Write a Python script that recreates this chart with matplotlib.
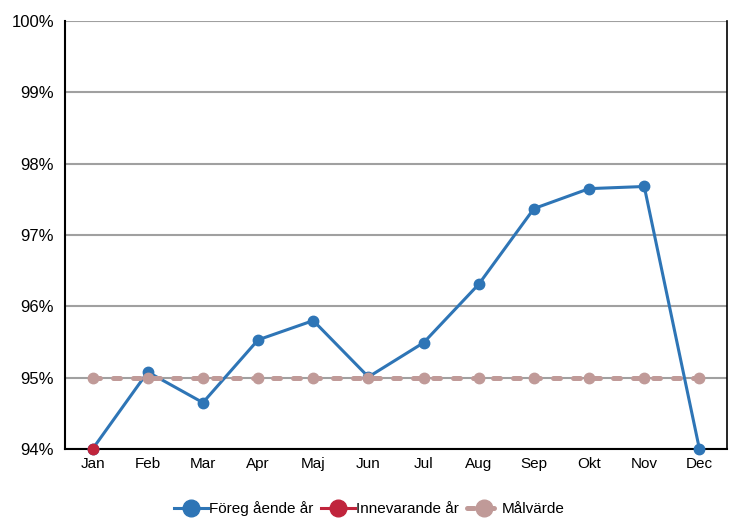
import matplotlib
matplotlib.use("Agg")
from matplotlib import pyplot as plt

plt.rcParams['font.family'] = ['Liberation Sans', 'DejaVu Sans']

months = ['Jan', 'Feb', 'Mar', 'Apr', 'Maj', 'Jun', 'Jul', 'Aug', 'Sep', 'Okt', 'Nov', 'Dec']
foregaende = [94.0, 95.08, 94.65, 95.53, 95.80, 95.01, 95.49, 96.31, 97.37, 97.65, 97.68, 94.0]
innevarande = [94.0]
malvarde = [95.0] * 12
yticks = [94, 95, 96, 97, 98, 99, 100]

fig = plt.figure(figsize=(7.32, 5.28), dpi=100)
ax = fig.add_axes([65 / 732, 1 - 449 / 528, 662 / 732, 428 / 528])

x = list(range(len(months)))
ax.plot(x, foregaende, color='#2E75B6', linewidth=2.2, marker='o', markersize=7.5,
        label='Föreg ående år', zorder=3, clip_on=False)
ax.plot(x, malvarde, color='#C09A98', linewidth=3.6, dashes=(1.4, 2.6), dash_capstyle='round',
        marker='o', markersize=7.5, label='Målvärde', zorder=4, clip_on=False)
ax.plot(x[:len(innevarande)], innevarande, color='#C0243C', linewidth=2.2, marker='o', markersize=7.5,
        label='Innevarande år', zorder=5, clip_on=False)

ax.set_xlim(-0.5, 11.5)
ax.set_ylim(94, 100)
ax.set_xticks(x)
ax.set_xticklabels(months, fontsize=11)
ax.set_yticks(yticks)
ax.set_yticklabels(['%d%%' % v for v in yticks], fontsize=12)
ax.tick_params(length=0, pad=6)
ax.tick_params(axis='y', pad=8)

ax.set_axisbelow(True)
ax.yaxis.grid(color='#A0A0A0', linewidth=1.5)
ax.spines['top'].set_visible(False)
ax.spines['left'].set_linewidth(1.5)
ax.spines['bottom'].set_linewidth(1.5)
ax.spines['right'].set_linewidth(1.2)

handles, labels = ax.get_legend_handles_labels()
order = [0, 2, 1]
ax.legend([handles[i] for i in order], [labels[i] for i in order], loc='center',
          bbox_to_anchor=(0.46, -0.14), ncol=3, frameon=False, fontsize=11,
          markerscale=1.6, handlelength=2.2, handletextpad=0.1, columnspacing=0.5)

fig.savefig('out.png', dpi=100)
